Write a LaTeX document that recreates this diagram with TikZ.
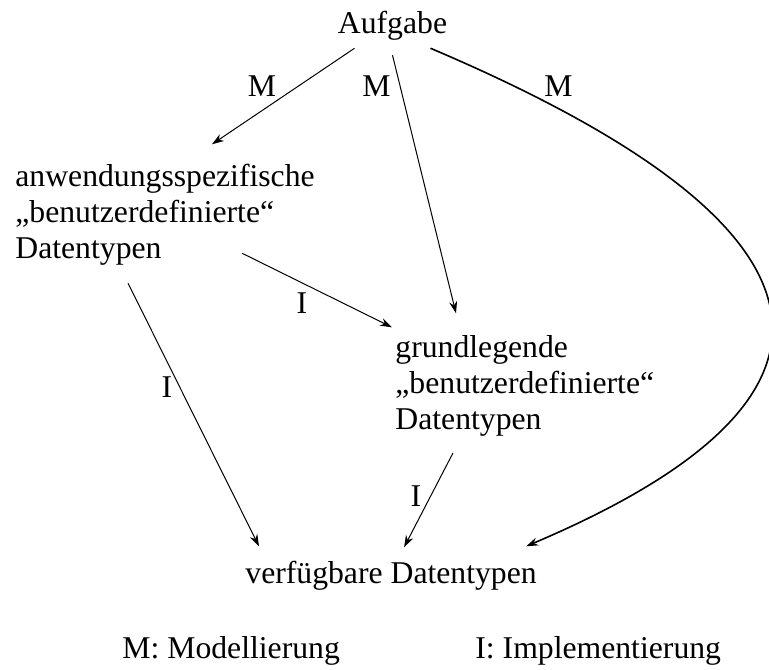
\documentclass[tikz,border=0pt]{standalone}
\usepackage{fontspec}
\setmainfont{Liberation Serif}
\usetikzlibrary{arrows.meta}

\tikzset{
  txt/.style={inner sep=0pt, font=\fontsize{15.85}{18}\selectfont},
  lbl/.style={txt},
  pfeil/.style={-{Stealth[length=6pt,width=4pt]}, line width=0.5pt}
}

\begin{document}
\begin{tikzpicture}[x=0.5pt,y=-0.5pt]
  \useasboundingbox (0,0) rectangle (769,669);

  \node[txt,anchor=base] (aufg) at (392.5,33) {Aufgabe};
  \node[txt,anchor=north west,align=left] (anw) at (15,163.3)
    {anwendungsspezifische\\„benutzerdefinierte“\\Datentypen};
  \node[txt,anchor=north west,align=left] (grund) at (395,335.3)
    {grundlegende\\„benutzerdefinierte“\\Datentypen};
  \node[txt,anchor=base west] (verf) at (245,583) {verfügbare Datentypen};

  \draw[pfeil] ([shift={(17,8)}]aufg.south west) -- ([shift={(197,-19)}]anw.north west);
  \draw[pfeil] ([shift={(0,15)}]aufg.south) -- ([shift={(61,-22)}]grund.north west);
  \draw[pfeil,line width=0.8pt] ([shift={(-17,8)}]aufg.south east)
    .. controls (835,220) and (895,390) .. ([shift={(-11,-14)}]verf.north east);
  \draw[pfeil] ([shift={(-73,-12)}]anw.south east) -- ([shift={(-3,-8)}]grund.north west);
  \draw[pfeil] ([shift={(-37,18)}]anw.south) -- ([shift={(14,-14)}]verf.north west);
  \draw[pfeil] ([shift={(58,16)}]grund.south west) -- ([shift={(13,-13)}]verf.north);

  \node[lbl] (m1) at (262,86) {M};
  \node[lbl] (m2) at (376.5,86) {M};
  \node[lbl] (m3) at (558.5,86) {M};
  \node[lbl] (i1) at (302,303.5) {I};
  \node[lbl] (i2) at (167,387) {I};
  \node[lbl] (i3) at (416,496) {I};

  \node[txt,anchor=base west] (legm) at (122,658) {M: Modellierung};
  \node[txt,anchor=base west] (legi) at (475,658) {I: Implementierung};
\end{tikzpicture}
\end{document}
